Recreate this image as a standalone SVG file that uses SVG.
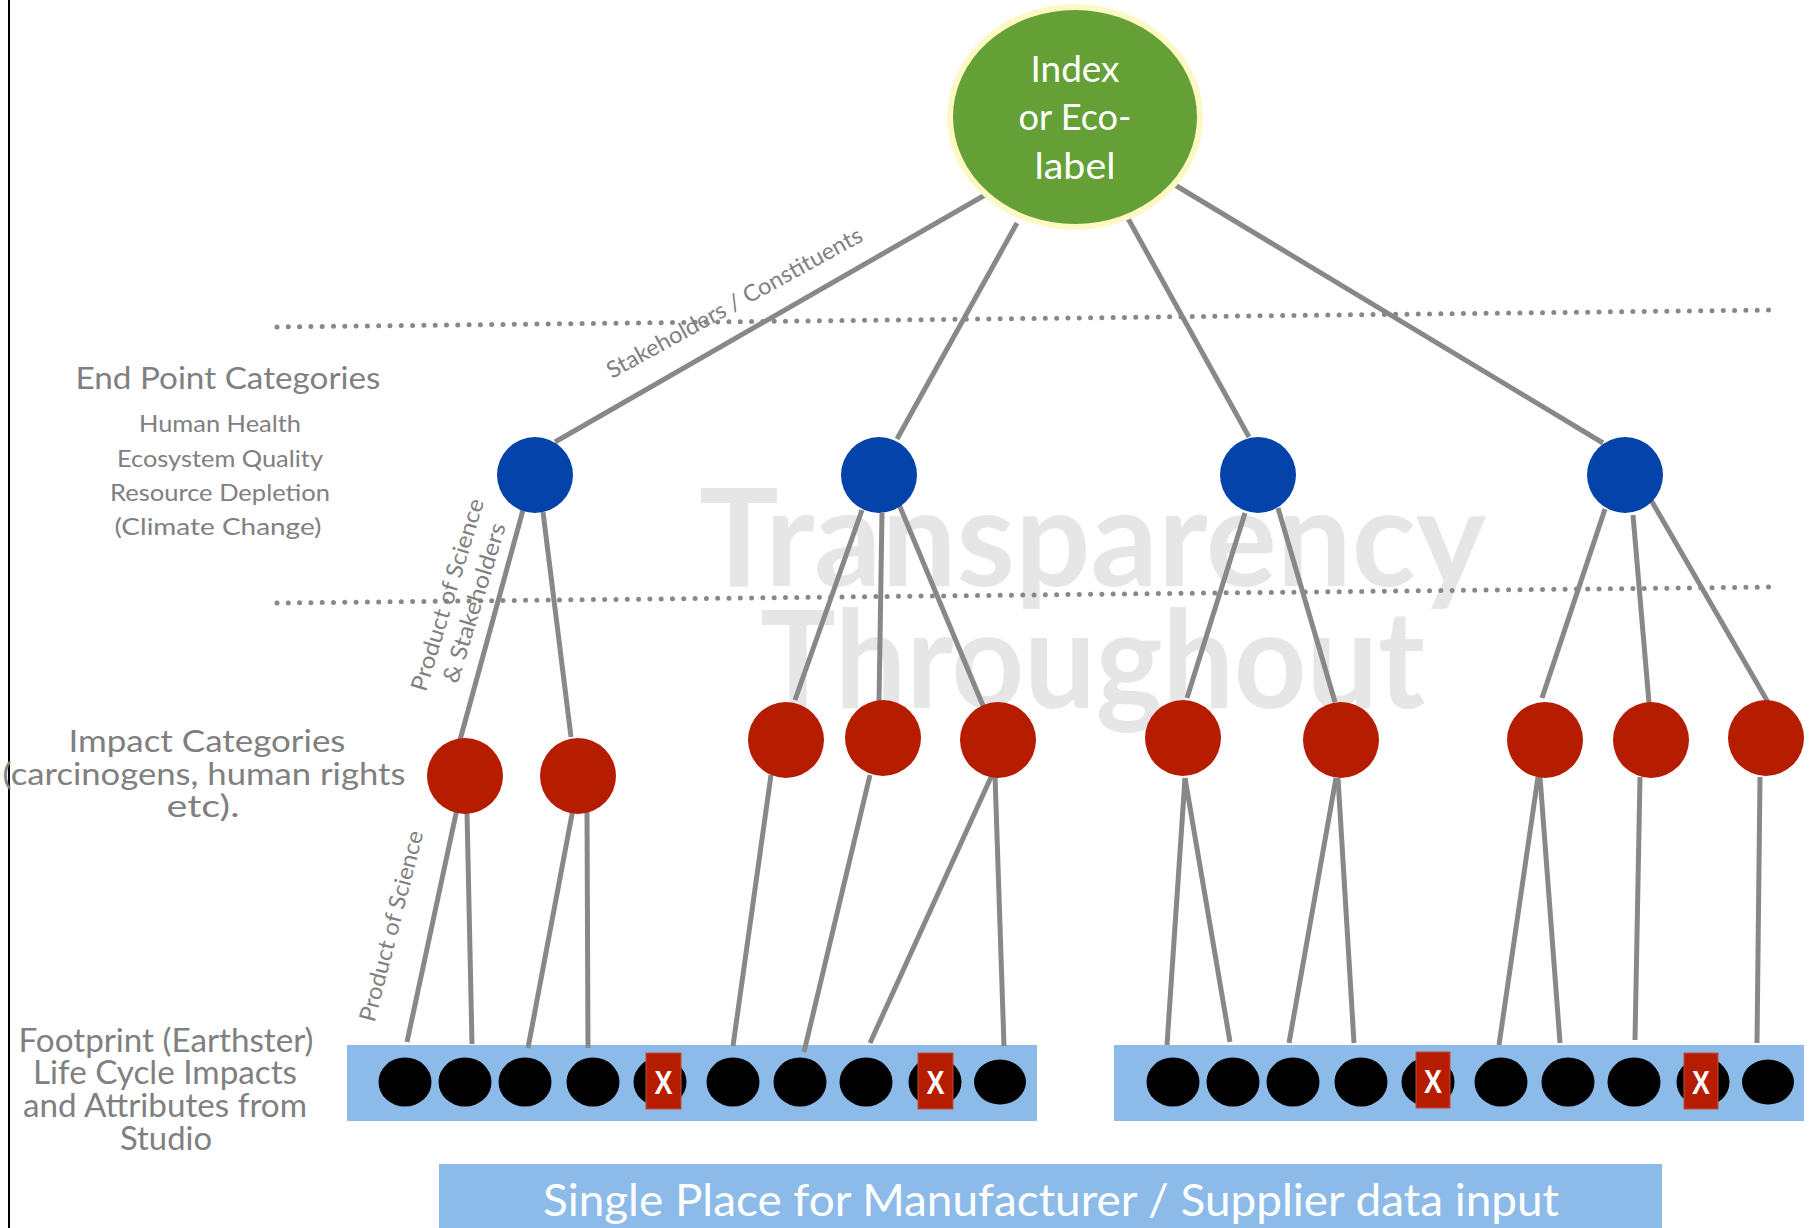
<svg xmlns="http://www.w3.org/2000/svg" width="1813" height="1228" viewBox="0 0 1813 1228">
<style>
text{font-family:Lato,"Liberation Sans",sans-serif}
.lbl{fill:#808080;text-anchor:middle}
.wm{fill:#e6e6e6;font-weight:bold}
.conn line{stroke:#888;stroke-width:5;fill:none}
.dots{stroke:#888;stroke-width:5;stroke-linecap:round;stroke-dasharray:0 11.3;fill:none}
.blue{fill:#0443aa}
.red{fill:#b51c00}
.blk{fill:#000}
.strip{fill:#8cbbe9}
.xbox{fill:#b51c00;stroke:#c0503a;stroke-width:1}
.xt{fill:#fff;font-family:"Liberation Sans",sans-serif;font-weight:bold;font-size:34px;text-anchor:middle}
</style>
<rect x="0" y="0" width="1813" height="1228" fill="#fff"/>
<line x1="9" y1="0" x2="9" y2="1228" stroke="#000" stroke-width="2"/>

<g id="watermark">
<text class="wm" x="699" y="586" font-size="136" textLength="787" lengthAdjust="spacingAndGlyphs">Transparency</text>
<text class="wm" x="760" y="708" font-size="136" textLength="665" lengthAdjust="spacingAndGlyphs">Throughout</text>
</g>

<g id="level-lines">
<line class="dots" x1="277" y1="327" x2="1775" y2="310"/>
<line class="dots" x1="277" y1="603" x2="1775" y2="587"/>
</g>

<g id="labels">
<text class="lbl" x="228" y="389" font-size="30" textLength="305" lengthAdjust="spacingAndGlyphs">End Point Categories</text>
<text class="lbl" x="220" y="432" font-size="24" textLength="162" lengthAdjust="spacingAndGlyphs">Human Health</text>
<text class="lbl" x="220" y="467" font-size="24" textLength="206" lengthAdjust="spacingAndGlyphs">Ecosystem Quality</text>
<text class="lbl" x="220" y="501" font-size="24" textLength="220" lengthAdjust="spacingAndGlyphs">Resource Depletion</text>
<text class="lbl" x="218" y="535" font-size="24" textLength="207" lengthAdjust="spacingAndGlyphs">(Climate Change)</text>
<text class="lbl" x="207" y="752" font-size="31" textLength="277" lengthAdjust="spacingAndGlyphs">Impact Categories</text>
<text class="lbl" x="204" y="785" font-size="31" textLength="403" lengthAdjust="spacingAndGlyphs">(carcinogens, human rights</text>
<text class="lbl" x="203" y="817" font-size="31" textLength="73" lengthAdjust="spacingAndGlyphs">etc).</text>
<text class="lbl" x="166" y="1052" font-size="32" textLength="295" lengthAdjust="spacingAndGlyphs">Footprint (Earthster)</text>
<text class="lbl" x="165" y="1084" font-size="32" textLength="264" lengthAdjust="spacingAndGlyphs">Life Cycle Impacts</text>
<text class="lbl" x="165" y="1117" font-size="32" textLength="284" lengthAdjust="spacingAndGlyphs">and Attributes from</text>
<text class="lbl" x="166" y="1150" font-size="32" textLength="92" lengthAdjust="spacingAndGlyphs">Studio</text>
<text class="lbl" font-size="23" transform="translate(612,379) rotate(-28.8)" x="0" y="0" style="text-anchor:start" textLength="288" lengthAdjust="spacingAndGlyphs">Stakeholders / Constituents</text>
<g transform="translate(455,597) rotate(-73)">
<text class="lbl" x="0" y="0" font-size="23" textLength="200" lengthAdjust="spacingAndGlyphs">Product of Science</text>
<text class="lbl" x="0" y="28" font-size="23" textLength="166" lengthAdjust="spacingAndGlyphs">&amp; Stakeholders</text>
</g>
<text class="lbl" font-size="23" transform="translate(399,928) rotate(-75.5)" x="0" y="0" textLength="196" lengthAdjust="spacingAndGlyphs">Product of Science</text>
</g>

<g id="strip-left"><rect class="strip" x="347" y="1045" width="690" height="76"/></g>
<g id="strip-right"><rect class="strip" x="1114" y="1045" width="690" height="76"/></g>

<g id="connectors" class="conn">
<line x1="992" y1="191" x2="555" y2="442"/>
<line x1="1017" y1="223" x2="897" y2="439"/>
<line x1="1125" y1="213" x2="1249" y2="437"/>
<line x1="1170" y1="182" x2="1603" y2="443"/>
<line x1="523" y1="510" x2="460" y2="740"/>
<line x1="543" y1="512" x2="571" y2="737"/>
<line x1="862" y1="510" x2="795" y2="700"/>
<line x1="882" y1="513" x2="879" y2="702"/>
<line x1="898" y1="502" x2="984" y2="708"/>
<line x1="1245" y1="513" x2="1187" y2="698"/>
<line x1="1278" y1="508" x2="1335" y2="702"/>
<line x1="1605" y1="509" x2="1542" y2="698"/>
<line x1="1633" y1="515" x2="1649" y2="703"/>
<line x1="1651" y1="500" x2="1769" y2="704"/>
<line x1="457" y1="809" x2="407" y2="1042"/>
<line x1="467" y1="812" x2="472" y2="1044"/>
<line x1="573" y1="809" x2="528" y2="1048"/>
<line x1="587" y1="812" x2="588" y2="1048"/>
<line x1="771" y1="775" x2="733" y2="1046"/>
<line x1="870" y1="775" x2="804" y2="1052"/>
<line x1="992" y1="775" x2="870" y2="1043"/>
<line x1="995" y1="775" x2="1004" y2="1046"/>
<line x1="1185" y1="778" x2="1167" y2="1045"/>
<line x1="1185" y1="778" x2="1230" y2="1042"/>
<line x1="1336" y1="778" x2="1289" y2="1043"/>
<line x1="1338" y1="778" x2="1354" y2="1043"/>
<line x1="1538" y1="777" x2="1499" y2="1045"/>
<line x1="1540" y1="777" x2="1560" y2="1043"/>
<line x1="1640" y1="777" x2="1635" y2="1040"/>
<line x1="1760" y1="777" x2="1757" y2="1043"/>
</g>

<g id="root">
<ellipse cx="1075" cy="117" rx="125" ry="110" fill="#64a035" stroke="#fdf8c4" stroke-width="6"/>
<text x="1075" y="82" font-size="37" fill="#fff" text-anchor="middle" textLength="89" lengthAdjust="spacingAndGlyphs">Index</text>
<text x="1075" y="130" font-size="37" fill="#fff" text-anchor="middle" textLength="113" lengthAdjust="spacingAndGlyphs">or Eco-</text>
<text x="1075" y="179" font-size="37" fill="#fff" text-anchor="middle" textLength="81" lengthAdjust="spacingAndGlyphs">label</text>
</g>

<g id="endpoint-1"><circle class="blue" cx="535" cy="475" r="38"/></g>
<g id="endpoint-2"><circle class="blue" cx="879" cy="475" r="38"/></g>
<g id="endpoint-3"><circle class="blue" cx="1258" cy="475" r="38"/></g>
<g id="endpoint-4"><circle class="blue" cx="1625" cy="475" r="38"/></g>

<g id="impact-1"><circle class="red" cx="465" cy="776" r="38"/></g>
<g id="impact-2"><circle class="red" cx="578" cy="776" r="38"/></g>
<g id="impact-3"><circle class="red" cx="786" cy="740" r="38"/></g>
<g id="impact-4"><circle class="red" cx="883" cy="738" r="38"/></g>
<g id="impact-5"><circle class="red" cx="998" cy="740" r="38"/></g>
<g id="impact-6"><circle class="red" cx="1183" cy="738" r="38"/></g>
<g id="impact-7"><circle class="red" cx="1341" cy="740" r="38"/></g>
<g id="impact-8"><circle class="red" cx="1545" cy="740" r="38"/></g>
<g id="impact-9"><circle class="red" cx="1651" cy="740" r="38"/></g>
<g id="impact-10"><circle class="red" cx="1766" cy="738" r="38"/></g>

<g id="footprint-left">
<ellipse class="blk" cx="405" cy="1082" rx="26.5" ry="24.5"/>
<ellipse class="blk" cx="465" cy="1082" rx="26.5" ry="24.5"/>
<ellipse class="blk" cx="525" cy="1082" rx="26.5" ry="24.5"/>
<ellipse class="blk" cx="593" cy="1082" rx="26.5" ry="24.5"/>
<ellipse class="blk" cx="660" cy="1082" rx="26.5" ry="24.5"/>
<ellipse class="blk" cx="733" cy="1082" rx="26.5" ry="24.5"/>
<ellipse class="blk" cx="800" cy="1082" rx="26.5" ry="24.5"/>
<ellipse class="blk" cx="866" cy="1082" rx="26.5" ry="24.5"/>
<ellipse class="blk" cx="935" cy="1082" rx="26.5" ry="24.5"/>
<ellipse class="blk" cx="1000" cy="1082" rx="26" ry="22.5"/>
<rect class="xbox" x="646" y="1053" width="35" height="56"/>
<text class="xt" x="663.5" y="1094" textLength="18" lengthAdjust="spacingAndGlyphs">X</text>
<rect class="xbox" x="918" y="1053" width="35" height="56"/>
<text class="xt" x="935.5" y="1094" textLength="18" lengthAdjust="spacingAndGlyphs">X</text>
</g>

<g id="footprint-right">
<ellipse class="blk" cx="1173" cy="1082" rx="26.5" ry="24.5"/>
<ellipse class="blk" cx="1233" cy="1082" rx="26.5" ry="24.5"/>
<ellipse class="blk" cx="1293" cy="1082" rx="26.5" ry="24.5"/>
<ellipse class="blk" cx="1361" cy="1082" rx="26.5" ry="24.5"/>
<ellipse class="blk" cx="1428" cy="1082" rx="26.5" ry="24.5"/>
<ellipse class="blk" cx="1501" cy="1082" rx="26.5" ry="24.5"/>
<ellipse class="blk" cx="1568" cy="1082" rx="26.5" ry="24.5"/>
<ellipse class="blk" cx="1634" cy="1082" rx="26.5" ry="24.5"/>
<ellipse class="blk" cx="1703" cy="1082" rx="26.5" ry="24.5"/>
<ellipse class="blk" cx="1768" cy="1082" rx="26" ry="22.5"/>
<rect class="xbox" x="1416" y="1052" width="34" height="56"/>
<text class="xt" x="1433" y="1093" textLength="18" lengthAdjust="spacingAndGlyphs">X</text>
<rect class="xbox" x="1684" y="1053" width="34" height="56"/>
<text class="xt" x="1701" y="1094" textLength="18" lengthAdjust="spacingAndGlyphs">X</text>
</g>

<g id="data-input">
<rect class="strip" x="439" y="1164" width="1223" height="70"/>
<text x="1051" y="1216" font-size="44" fill="#fff" text-anchor="middle" textLength="1016" lengthAdjust="spacingAndGlyphs">Single Place for Manufacturer / Supplier data input</text>
</g>
</svg>
